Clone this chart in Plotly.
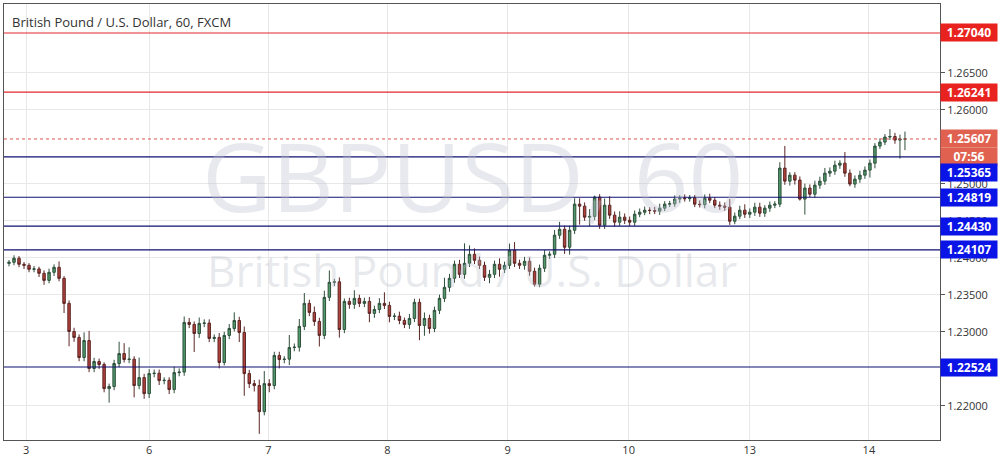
import plotly.graph_objects as go

# hourly closes, GBP/USD (FXCM, 60 min), oldest first
closes = [
    1.23940, 1.23994, 1.23913, 1.23899, 1.23845, 1.23850, 1.23791, 1.23695, 1.23804, 1.23872,
    1.23723, 1.23384, 1.23004, 1.22924, 1.22652, 1.22882, 1.22504, 1.22598, 1.22558, 1.22232,
    1.22260, 1.22571, 1.22706, 1.22625, 1.22630, 1.22273, 1.22381, 1.22164, 1.22435, 1.22440,
    1.22340, 1.22345, 1.22219, 1.22448, 1.22455, 1.23127, 1.23100, 1.22977, 1.23113, 1.23118,
    1.22910, 1.22924, 1.22585, 1.22951, 1.23045, 1.23153, 1.22991, 1.22435, 1.22299, 1.22273,
    1.21920, 1.22299, 1.22273, 1.22680, 1.22625, 1.22630, 1.22787, 1.22792, 1.23073, 1.23384,
    1.23262, 1.23140, 1.22951, 1.23466, 1.23669, 1.23675, 1.23031, 1.23411, 1.23371, 1.23452,
    1.23384, 1.23411, 1.23249, 1.23302, 1.23384, 1.23357, 1.23208, 1.23212, 1.23153, 1.23100,
    1.23181, 1.23398, 1.23086, 1.23181, 1.23045, 1.23290, 1.23452, 1.23601, 1.23723, 1.23913,
    1.23777, 1.23926, 1.24048, 1.23967, 1.23899, 1.23737, 1.23777, 1.23913, 1.23845, 1.23899,
    1.24103, 1.23926, 1.23899, 1.23953, 1.23818, 1.23642, 1.23859, 1.24035, 1.24048, 1.24306,
    1.24386, 1.24143, 1.24373, 1.24726, 1.24699, 1.24550, 1.24560, 1.24821, 1.24441, 1.24712,
    1.24577, 1.24482, 1.24550, 1.24508, 1.24482, 1.24590, 1.24617, 1.24644, 1.24640, 1.24631,
    1.24672, 1.24726, 1.24730, 1.24794, 1.24807, 1.24800, 1.24810, 1.24726, 1.24720, 1.24807,
    1.24779, 1.24712, 1.24699, 1.24685, 1.24495, 1.24563, 1.24644, 1.24590, 1.24617, 1.24685,
    1.24604, 1.24672, 1.24712, 1.24726, 1.25213, 1.25037, 1.25118, 1.25051, 1.24794, 1.24943,
    1.24861, 1.24983, 1.25037, 1.25145, 1.25172, 1.25253, 1.25280, 1.25145, 1.24997, 1.25064,
    1.25118, 1.25186, 1.25280, 1.25511, 1.25565, 1.25633, 1.25640, 1.25592, 1.25606, 1.25607,
]
first_open = 1.23925

# wick lengths in pips beyond the body
upper_wick = [
    3, 4, 3, 3, 3, 4, 3, 4, 5, 4, 8, 3, 4, 5, 4, 11, 13, 5, 4, 3,
    4, 5, 16, 14, 16, 4, 27, 5, 6, 5, 5, 4, 4, 8, 5, 8, 6, 4, 8, 5,
    5, 4, 6, 5, 6, 11, 5, 8, 5, 5, 8, 17, 6, 5, 5, 4, 17, 5, 10, 14,
    5, 8, 5, 9, 16, 4, 6, 4, 5, 11, 5, 5, 6, 5, 7, 15, 5, 4, 6, 4,
    6, 5, 5, 8, 5, 5, 5, 13, 6, 5, 6, 27, 12, 8, 5, 5, 6, 5, 8, 5,
    9, 11, 5, 6, 5, 5, 5, 7, 4, 7, 10, 5, 6, 8, 8, 5, 10, 2, 4, 9,
    12, 5, 8, 5, 5, 5, 5, 5, 4, 5, 6, 4, 4, 5, 4, 5, 4, 4, 5, 5,
    6, 4, 5, 5, 11, 5, 6, 8, 5, 6, 6, 4, 5, 4, 8, 30, 4, 4, 5, 6,
    5, 6, 6, 7, 5, 6, 4, 15, 5, 5, 6, 5, 5, 4, 5, 4, 10, 5, 6, 10,
]
lower_wick = [
    4, 4, 4, 5, 4, 4, 5, 6, 4, 5, 4, 13, 20, 6, 5, 5, 5, 5, 6, 5,
    19, 5, 5, 4, 5, 16, 5, 7, 6, 5, 6, 5, 6, 5, 5, 5, 5, 25, 6, 5,
    5, 5, 8, 4, 5, 4, 13, 30, 6, 8, 30, 5, 9, 5, 12, 5, 8, 5, 6, 5,
    5, 6, 15, 5, 5, 5, 11, 5, 6, 6, 5, 5, 12, 6, 5, 5, 8, 5, 5, 5,
    6, 5, 20, 14, 7, 5, 5, 5, 6, 6, 5, 6, 5, 5, 5, 5, 8, 5, 10, 5,
    5, 5, 5, 6, 6, 3, 4, 5, 5, 5, 5, 9, 10, 5, 25, 5, 12, 5, 5, 5,
    5, 6, 5, 5, 5, 5, 4, 4, 5, 4, 5, 4, 4, 4, 5, 4, 4, 4, 4, 5,
    4, 4, 5, 5, 5, 4, 4, 5, 5, 5, 5, 5, 5, 4, 4, 5, 6, 6, 2, 21,
    4, 5, 5, 5, 5, 5, 5, 5, 3, 5, 5, 5, 10, 7, 4, 4, 4, 5, 25, 15,
]

day_labels = ["3", "6", "7", "8", "9", "10", "13", "14"]
day_starts = [4.4, 29, 52.8, 76.6, 100.6, 124.8, 149, 172.8]
price_ticks = [1.220, 1.230, 1.235, 1.240, 1.245, 1.250, 1.260, 1.265]

resistance = [1.27040, 1.26241]
support = [1.25365, 1.24819, 1.24430, 1.24107, 1.22524]
last_price = 1.25607
countdown = "07:56"

pip = 0.0001
opens = [first_open] + closes[:-1]
highs = [max(o, c) + u * pip for o, c, u in zip(opens, closes, upper_wick)]
lows = [min(o, c) - d * pip for o, c, d in zip(opens, closes, lower_wick)]
idx = list(range(1, len(closes) + 1))

fig = go.Figure()
fig.add_trace(go.Candlestick(
    x=idx, open=opens, high=highs, low=lows, close=closes,
    increasing=dict(line=dict(color="#2f4f3c", width=1), fillcolor="#4f9a69"),
    decreasing=dict(line=dict(color="#5a2624", width=1), fillcolor="#b3413b"),
    whiskerwidth=0, showlegend=False, hoverinfo="skip",
))

shapes = []
for lvl in resistance:
    shapes.append(dict(type="line", xref="paper", x0=0, x1=1, yref="y", y0=lvl, y1=lvl,
                       line=dict(color="#e0292b", width=1.2)))
for lvl in support:
    shapes.append(dict(type="line", xref="paper", x0=0, x1=1, yref="y", y0=lvl, y1=lvl,
                       line=dict(color="#101070", width=1.2)))
shapes.append(dict(type="line", xref="paper", x0=0, x1=1, yref="y", y0=last_price, y1=last_price,
                   line=dict(color="#d9534f", width=1, dash="dot")))

annotations = [
    dict(text="British Pound / U.S. Dollar, 60, FXCM", xref="paper", yref="paper",
         x=0.006, y=0.985, xanchor="left", yanchor="top", showarrow=False,
         font=dict(size=13, color="#333", family="Open Sans")),
    dict(text="GBPUSD, 60", xref="paper", yref="paper", x=0.5, y=0.61,
         showarrow=False, font=dict(size=96, color="rgba(190,192,205,0.35)", family="Open Sans")),
    dict(text="British Pound / U.S. Dollar", xref="paper", yref="paper", x=0.5, y=0.39,
         showarrow=False, font=dict(size=44, color="rgba(190,192,205,0.35)", family="Open Sans")),
]


def axis_box(lvl, bg, text=None, shift=0):
    return dict(text="<b>%s</b>" % (text or "%.5f" % lvl), xref="paper", yref="y", x=1.0, y=lvl,
                xanchor="left", yanchor="middle", showarrow=False, yshift=shift,
                bgcolor=bg, width=54, height=15, borderpad=1,
                font=dict(size=12, color="white", family="Open Sans"))


for lvl in resistance:
    annotations.append(axis_box(lvl, "#e8231f"))
annotations.append(axis_box(last_price, "#e0614f"))
annotations.append(axis_box(last_price, "#e0614f", countdown, shift=-18))
for i, lvl in enumerate(support):
    # the first support label is pushed down under the countdown box
    annotations.append(axis_box(lvl, "#0a14e6", shift=-16 if i == 0 else 0))

fig.update_layout(
    width=1004, height=469,
    margin=dict(l=4, r=64, t=4, b=29),
    paper_bgcolor="white", plot_bgcolor="white",
    shapes=shapes, annotations=annotations,
    font=dict(family="Open Sans", size=11, color="#333"),
    xaxis=dict(range=[0, 187], tickvals=day_starts, ticktext=day_labels,
               showgrid=True, gridcolor="#e8e8e8", rangeslider=dict(visible=False),
               showline=True, linecolor="#555", mirror=True, ticks="", zeroline=False),
    yaxis=dict(range=[1.21537, 1.27432], side="right",
               tickvals=price_ticks, tickformat=".5f", showgrid=True, gridcolor="#e8e8e8",
               showline=True, linecolor="#555", mirror=True, ticks="outside",
               ticklen=4, tickcolor="#555", zeroline=False),
)

fig.write_html("out.html", config={"displayModeBar": False},
               post_script="document.body.style.margin='0';")
